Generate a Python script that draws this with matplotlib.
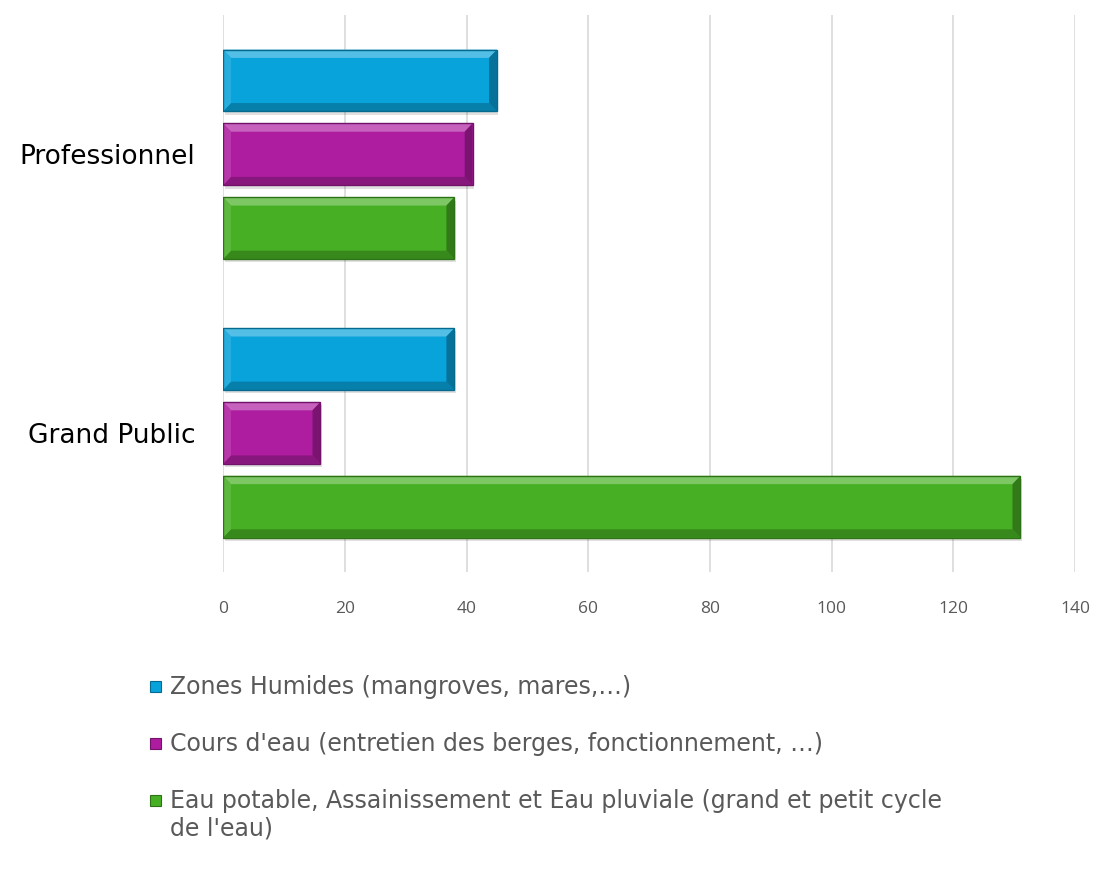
import numpy as np
import matplotlib.pyplot as plt
from matplotlib.patches import Polygon, Rectangle
import matplotlib.colors as mcolors

categories = ["Grand Public", "Professionnel"]
series_names = [
    "Zones Humides (mangroves, mares,\u2026)",
    "Cours d'eau (entretien des berges, fonctionnement, \u2026)",
    "Eau potable, Assainissement et Eau pluviale (grand et petit cycle\nde l'eau)",
]
zones_humides = [38, 45]
cours_eau = [16, 41]
eau_potable = [131, 38]
values = [zones_humides, cours_eau, eau_potable]
colors = ["#09A3DB", "#AE1DA0", "#47AF23"]

W, H = 1096, 883
fig = plt.figure(figsize=(W / 100, H / 100), dpi=100)
ax = fig.add_axes([0.2035, 0.352, 0.7775, 0.631])

bar_h = 0.222
step = 0.265
y = np.arange(len(categories))


def shade(c, f):
    rgb = np.array(mcolors.to_rgb(c))
    if f > 0:
        return tuple(rgb + (1 - rgb) * f)
    return tuple(rgb * (1 + f))


def bevel_bar(ax, x0, w, yc, h, color):
    y0, y1 = yc - h / 2, yc + h / 2
    x1 = x0 + w
    bx = 1.3      # bevel width in x units
    by = 0.03     # bevel width in y units
    # shadow
    ax.add_patch(Rectangle((x0 + 0.25, y0 - 0.012), w, h, color="#000000",
                           alpha=0.12, lw=0, zorder=2))
    ax.add_patch(Rectangle((x0, y0), w, h, facecolor=color, lw=0, zorder=3))
    # top (lighter), bottom (darker), left/right facets
    ax.add_patch(Polygon([(x0, y1), (x1, y1), (x1 - bx, y1 - by), (x0 + bx, y1 - by)],
                         closed=True, facecolor=shade(color, 0.3), lw=0, zorder=4))
    ax.add_patch(Polygon([(x0, y0), (x1, y0), (x1 - bx, y0 + by), (x0 + bx, y0 + by)],
                         closed=True, facecolor=shade(color, -0.22), lw=0, zorder=4))
    ax.add_patch(Polygon([(x0, y0), (x0, y1), (x0 + bx, y1 - by), (x0 + bx, y0 + by)],
                         closed=True, facecolor=shade(color, 0.12), lw=0, zorder=4))
    ax.add_patch(Polygon([(x1, y0), (x1, y1), (x1 - bx, y1 - by), (x1 - bx, y0 + by)],
                         closed=True, facecolor=shade(color, -0.3), lw=0, zorder=4))
    ax.add_patch(Rectangle((x0, y0), w, h, facecolor="none",
                           edgecolor=shade(color, -0.35), lw=1.0, zorder=5))


for i, (vals, col) in enumerate(zip(values, colors)):
    offs = (1 - i) * step
    for yc, v in zip(y + offs, vals):
        bevel_bar(ax, 0, v, yc, bar_h, col)

ax.set_xlim(0, 140)
ax.set_ylim(-0.5, 1.5)
ax.set_xticks(np.arange(0, 141, 20))
ax.set_yticks(y)
ax.set_yticklabels(categories, fontsize=19, family="DejaVu Sans", color="#000000")
for lab in ax.get_xticklabels():
    lab.set_family("Open Sans")
    lab.set_fontsize(12.5)
    lab.set_color("#595959")
ax.tick_params(axis="x", length=0, pad=21)
ax.tick_params(axis="y", length=0, pad=20)
ax.grid(axis="x", color="#D9D9D9", lw=1.2, zorder=0)
ax.set_axisbelow(True)
for s in ax.spines.values():
    s.set_visible(False)

# legend below the plot, marker aligned with the first line of each entry
sq = 11
for k, (name, col) in enumerate(zip(series_names, colors)):
    yc = 686 + 57 * k
    fig.patches.append(Rectangle((150 / W, 1 - (yc + sq / 2) / H), sq / W, sq / H,
                                 transform=fig.transFigure, facecolor=col,
                                 edgecolor=shade(col, -0.35), lw=0.8))
    fig.text(170 / W, 1 - (yc - 11) / H, name, ha="left", va="top",
             family="DejaVu Sans", fontsize=17, color="#595959", linespacing=1.19)

fig.savefig("out.png", dpi=100)
